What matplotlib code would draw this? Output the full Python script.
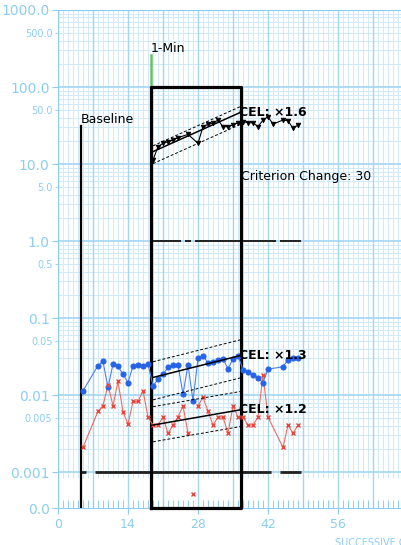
import matplotlib
matplotlib.use("Agg")
import matplotlib.pyplot as plt
import numpy as np

# daily chart data
top_days = [19, 20, 21, 22, 23, 24, 26, 28, 29, 30, 31, 32, 33, 34, 35, 36,
            37, 38, 39, 40, 41, 42, 43, 45, 46, 47, 48]
top_vals = [11.3, 16.8, 18.6, 19.5, 20.5, 22.0, 24.3, 18.6, 30.6, 32.8, 33.8, 37.3,
            30.6, 30.6, 32.2, 34.4, 35.5, 34.4, 34.4, 30.6, 37.3, 41.2, 33.1,
            37.3, 36.6, 29.1, 32.2]

low_days = [5, 8, 9, 10, 11, 12, 13, 14, 15, 16, 17, 18, 19, 20, 21, 22, 23, 24,
            25, 26, 27, 28, 29, 30, 31, 32, 33, 34, 35, 36, 37, 38, 39, 40, 41, 42,
            45, 46, 47, 48]
blue_vals = [0.0114, 0.0243, 0.0274, 0.0126, 0.0255, 0.0236, 0.0187, 0.0146, 0.0240,
             0.0248, 0.0236, 0.0255, 0.0132, 0.0160, 0.0187, 0.0229, 0.0248, 0.0248,
             0.0103, 0.0248, 0.0085, 0.0300, 0.0327, 0.0261, 0.0268, 0.0288, 0.0297,
             0.0220, 0.0297, 0.0327, 0.0213, 0.0200, 0.0185, 0.0167, 0.0146, 0.0218,
             0.0234, 0.0290, 0.0303, 0.0303]
red_vals = [0.0021, 0.0062, 0.0073, 0.0136, 0.0073, 0.0151, 0.0061, 0.0042, 0.0083,
            0.0083, 0.0114, 0.0052, 0.0041, 0.0041, 0.0052, 0.0032, 0.0041, 0.0052,
            0.0073, 0.0032, 0.0, 0.0073, 0.0094, 0.0062, 0.0041, 0.0052, 0.0052,
            0.0032, 0.0073, 0.0052, 0.0052, 0.0041, 0.0041, 0.0052, 0.0184, 0.0052,
            0.0021, 0.0041, 0.0032, 0.0041]

top_floor = 1.0
low_floor = 0.001

# celeration lines: (value per week, level on start day, bounce up, bounce down)
cel_start, cel_end = 19, 36.5
cel_top = (1.6, 14.5, 1.19, 1.43)
cel_blue = (1.3, 0.017, 1.6, 1.95)
cel_red = (1.2, 0.0041, 1.73, 1.65)

baseline_x, baseline_top = 4.6, 31
phase_x, phase_top = 18.6, 260
box_x0, box_x1, box_top = 18.6, 36.6, 100

x_ticks = [0, 14, 28, 42, 56]
y_major = [0.001, 0.01, 0.1, 1, 10, 100, 1000]
y_major_labels = ["0.001", "0.01", "0.1", "1.0", "10.0", "100.0", "1000.0"]
y_minor = [0.005, 0.05, 0.5, 5, 50, 500]
y_minor_labels = ["0.005", "0.05", "0.5", "5.0", "50.0", "500.0"]

ybot = 10 ** -3.464
zero_y = 10 ** -3.28
tick_blue = "#8ccdf3"
grid_major = "#a3d6f5"
grid_minor = "#d0eafa"

fig = plt.figure(figsize=(4.01, 5.45), dpi=100)
ax = fig.add_axes([58 / 401, 37 / 545, 700 / 401, 498 / 545])
ax.set_yscale("log")
ax.set_xlim(0, 140)
ax.set_ylim(ybot, 1000)

# chart paper
days = np.arange(0, 141)
wk = days[days % 7 == 0]
dy = days[days % 7 != 0]
ax.vlines(dy, 0.00085, 1000, color=grid_minor, lw=0.7, zorder=0.5)
ax.vlines(wk, ybot, 1000, color=grid_major, lw=1.0, zorder=0.6)
minors = [m * 10.0 ** e for e in range(-3, 3) for m in range(2, 10)]
ax.hlines(minors, 0, 140, color=grid_minor, lw=0.7, zorder=0.5)
ax.hlines(y_major, 0, 140, color=grid_major, lw=1.2, zorder=0.6)

ax.set_yticks([ybot] + y_major, ["0.0"] + y_major_labels)
ax.set_yticks(y_minor, y_minor_labels, minor=True)
ax.set_xticks(x_ticks)
ax.set_xticks(days[days <= 68], minor=True)
ax.tick_params(axis="y", which="major", colors=tick_blue, labelsize=10, length=4, pad=2)
ax.tick_params(axis="y", which="minor", colors=tick_blue, labelsize=7, length=2, pad=2)
ax.tick_params(axis="x", which="major", colors=tick_blue, labelsize=9, length=4, pad=3)
ax.tick_params(axis="x", which="minor", colors=tick_blue, direction="in", length=6, width=0.7)
for s in ax.spines.values():
    s.set_color(tick_blue)
ax.set_xlabel("SUCCESSIVE CALENDAR DAYS", color=tick_blue, fontsize=7, labelpad=5)

# record floors
ax.plot(top_days, [top_floor] * len(top_days), ls="none", marker="_", ms=3.7,
        mew=1.4, color="#222222", zorder=3)
ax.plot(low_days, [low_floor] * len(low_days), ls="none", marker="_", ms=3.7,
        mew=2.0, color="#222222", zorder=3)

# phase lines and box
ax.plot([baseline_x, baseline_x], [ybot, baseline_top], color="black", lw=1.6, zorder=4)
ax.text(baseline_x, baseline_top, "Baseline", fontsize=9, ha="left", va="bottom")
ax.plot([phase_x, phase_x], [ybot, phase_top], color="#66c266", lw=1.8, zorder=4)
ax.text(phase_x, phase_top, "1-Min", fontsize=9, ha="left", va="bottom")
ax.plot([box_x0, box_x0, box_x1, box_x1, box_x0], [ybot, box_top, box_top, ybot, ybot],
        color="black", lw=2.3, zorder=5, clip_on=False)
ax.text(box_x1, 7.0, "Criterion Change: 30", fontsize=9, ha="left", va="center")

# data series
def series(d, v, color, lcolor, marker, ms, mew):
    d = np.array(d, float)
    v = np.array(v, float)
    line = np.where(v > 0, v, np.nan)
    ax.plot(d, line, color=lcolor, lw=0.8, zorder=6)
    ax.plot(d, line, ls="none", marker=marker, ms=ms, mew=mew, color=color, zorder=7)
    z = v == 0
    ax.plot(d[z], np.full(z.sum(), zero_y), ls="none", marker=marker, ms=ms, mew=mew,
            color=color, zorder=7)

series(top_days, top_vals, "black", "black", "v", 3.3, 0.6)
series(low_days, blue_vals, "#2563e8", "#4a7ff0", "o", 3.6, 0.8)
series(low_days, red_vals, "#e8453c", "#ee6a5e", "x", 3.4, 1.0)

# celeration and bounce lines
cx = np.array([cel_start, cel_end])
for cel, lvl, up, dn in (cel_top, cel_blue, cel_red):
    cy = lvl * cel ** ((cx - cel_start) / 7.0)
    ax.plot(cx, cy, color="black", lw=1.1, zorder=8)
    ax.plot(cx, cy * up, color="black", lw=0.7, ls=(0, (3, 2)), zorder=8)
    ax.plot(cx, cy / dn, color="black", lw=0.7, ls=(0, (3, 2)), zorder=8)
    ax.text(cel_end - 0.3, cy[-1], "CEL: \u00d7%.1f" % cel, fontsize=9,
            fontweight="bold", ha="left", va="center", zorder=9)

fig.savefig("out.png", dpi=100)
